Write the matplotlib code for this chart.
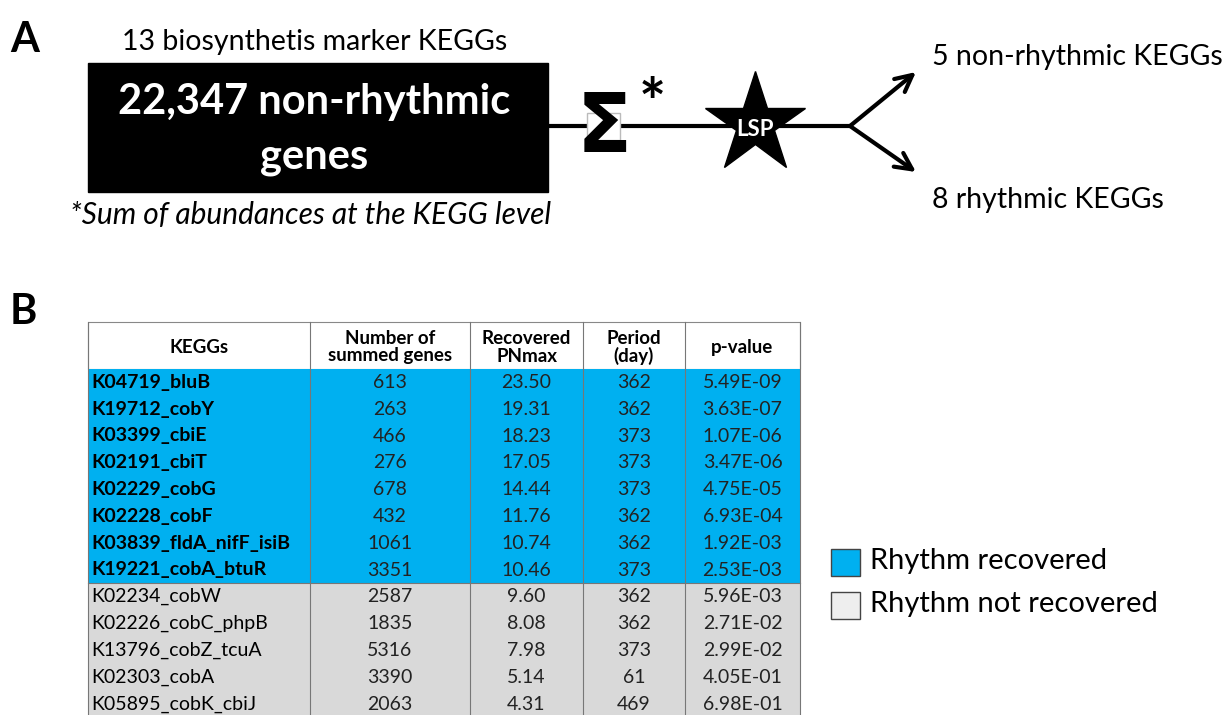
import matplotlib.pyplot as plt
from matplotlib.patches import Rectangle

# table data
keggs = ["K04719_bluB", "K19712_cobY", "K03399_cbiE", "K02191_cbiT", "K02229_cobG",
         "K02228_cobF", "K03839_fldA_nifF_isiB", "K19221_cobA_btuR", "K02234_cobW",
         "K02226_cobC_phpB", "K13796_cobZ_tcuA", "K02303_cobA", "K05895_cobK_cbiJ"]
n_genes = [613, 263, 466, 276, 678, 432, 1061, 3351, 2587, 1835, 5316, 3390, 2063]
pnmax = [23.50, 19.31, 18.23, 17.05, 14.44, 11.76, 10.74, 10.46, 9.60, 8.08, 7.98, 5.14, 4.31]
period = [362, 362, 373, 373, 373, 362, 362, 373, 362, 362, 373, 61, 469]
pvalue = ["5.49E-09", "3.63E-07", "1.07E-06", "3.47E-06", "4.75E-05", "6.93E-04", "1.92E-03",
          "2.53E-03", "5.96E-03", "2.71E-02", "2.99E-02", "4.05E-01", "6.98E-01"]
n_rhythmic = 8
headers = ["KEGGs", "Number of\nsummed genes", "Recovered\nPNmax", "Period\n(day)", "p-value"]

blue = "#00b0f0"
grey = "#d9d9d9"
fnt = "Lato"

fig = plt.figure(figsize=(12.24, 7.15), dpi=100)
ax = fig.add_axes([0, 0, 1, 1])
ax.set_xlim(0, 1224)
ax.set_ylim(715, 0)
ax.axis("off")

# ---- panel A ----
ax.text(10, 40, "A", fontsize=30, fontweight="bold", family=fnt, va="center")
ax.text(315, 42, "13 biosynthetis marker KEGGs", fontsize=20.5, family=fnt, ha="center", va="center")
ax.add_patch(Rectangle((88, 63), 460, 129, color="black"))
ax.text(314, 102, "22,347 non-rhythmic", fontsize=30, fontweight="bold", color="white",
        family=fnt, ha="center", va="center")
ax.text(314, 157, "genes", fontsize=30, fontweight="bold", color="white",
        family=fnt, ha="center", va="center")
ax.text(70, 215, "*Sum of abundances at the KEGG level", fontsize=21.5, style="italic",
        family=fnt, va="center")

ax.plot([548, 850], [126, 126], color="black", lw=3, zorder=1)
ax.add_patch(Rectangle((587, 113), 33, 27, facecolor="white", edgecolor="#bbbbbb", lw=1, zorder=2))
ax.text(604, 130, "Σ", fontsize=58, fontweight="bold", family="DejaVu Sans",
        ha="center", va="center", zorder=3)
ax.text(652, 106, "*", fontsize=46, fontweight="bold", family=fnt, ha="center", va="center")
ax.plot([755], [124], marker="*", markersize=76, color="black", zorder=3)
ax.text(755, 130, "LSP", fontsize=16, fontweight="bold", color="white", family=fnt,
        ha="center", va="center", zorder=4)
for y_end in [72, 172]:
    ax.annotate("", xy=(916, y_end), xytext=(850, 126),
                arrowprops=dict(arrowstyle="->", lw=3, color="black",
                                mutation_scale=30, shrinkA=0, shrinkB=0))
ax.text(932, 57, "5 non-rhythmic KEGGs", fontsize=20.5, family=fnt, va="center")
ax.text(932, 200, "8 rhythmic KEGGs", fontsize=20.5, family=fnt, va="center")

# ---- panel B ----
ax.text(10, 312, "B", fontsize=30, fontweight="bold", family=fnt, va="center")

col_x = [88, 310, 470, 583, 685, 800]
top = 322
head_h = 47
row_h = 26.8
body_top = top + head_h

ax.add_patch(Rectangle((col_x[0], top), col_x[-1] - col_x[0], head_h,
                       facecolor="white", edgecolor="#888888", lw=0.8))
for j, h in enumerate(headers):
    cx = (col_x[j] + col_x[j + 1]) / 2
    ax.text(cx, top + head_h / 2 + 2, h, fontsize=13.5, fontweight="bold", family=fnt,
            ha="center", va="center", linespacing=1.0)

for i in range(len(keggs)):
    y0 = body_top + i * row_h
    fc = blue if i < n_rhythmic else grey
    ax.add_patch(Rectangle((col_x[0], y0), col_x[-1] - col_x[0], row_h,
                           facecolor=fc, edgecolor="none"))
    ym = y0 + row_h / 2
    bold = "bold" if i < n_rhythmic else "normal"
    ax.text(col_x[0] + 3, ym, keggs[i], fontsize=14, fontweight=bold, family=fnt, va="center")
    vals = [str(n_genes[i]), f"{pnmax[i]:.2f}", str(period[i]), pvalue[i]]
    for j, v in enumerate(vals):
        cx = (col_x[j + 1] + col_x[j + 2]) / 2
        ax.text(cx, ym, v, fontsize=14, family=fnt, ha="center", va="center", color="#222222")

body_bot = body_top + len(keggs) * row_h
for x in col_x:
    ax.plot([x, x], [top, body_bot], color="#777777", lw=0.8)
ax.plot([col_x[0], col_x[-1]], [body_top + n_rhythmic * row_h] * 2, color="#777777", lw=0.8)

# legend
ax.add_patch(Rectangle((831, 549), 29, 27, facecolor=blue, edgecolor="#444444", lw=1))
ax.text(870, 561, "Rhythm recovered", fontsize=21, family=fnt, va="center")
ax.add_patch(Rectangle((831, 592), 29, 27, facecolor="#eeeeee", edgecolor="#444444", lw=1))
ax.text(870, 604, "Rhythm not recovered", fontsize=21, family=fnt, va="center")

fig.savefig("out.png", dpi=100)
